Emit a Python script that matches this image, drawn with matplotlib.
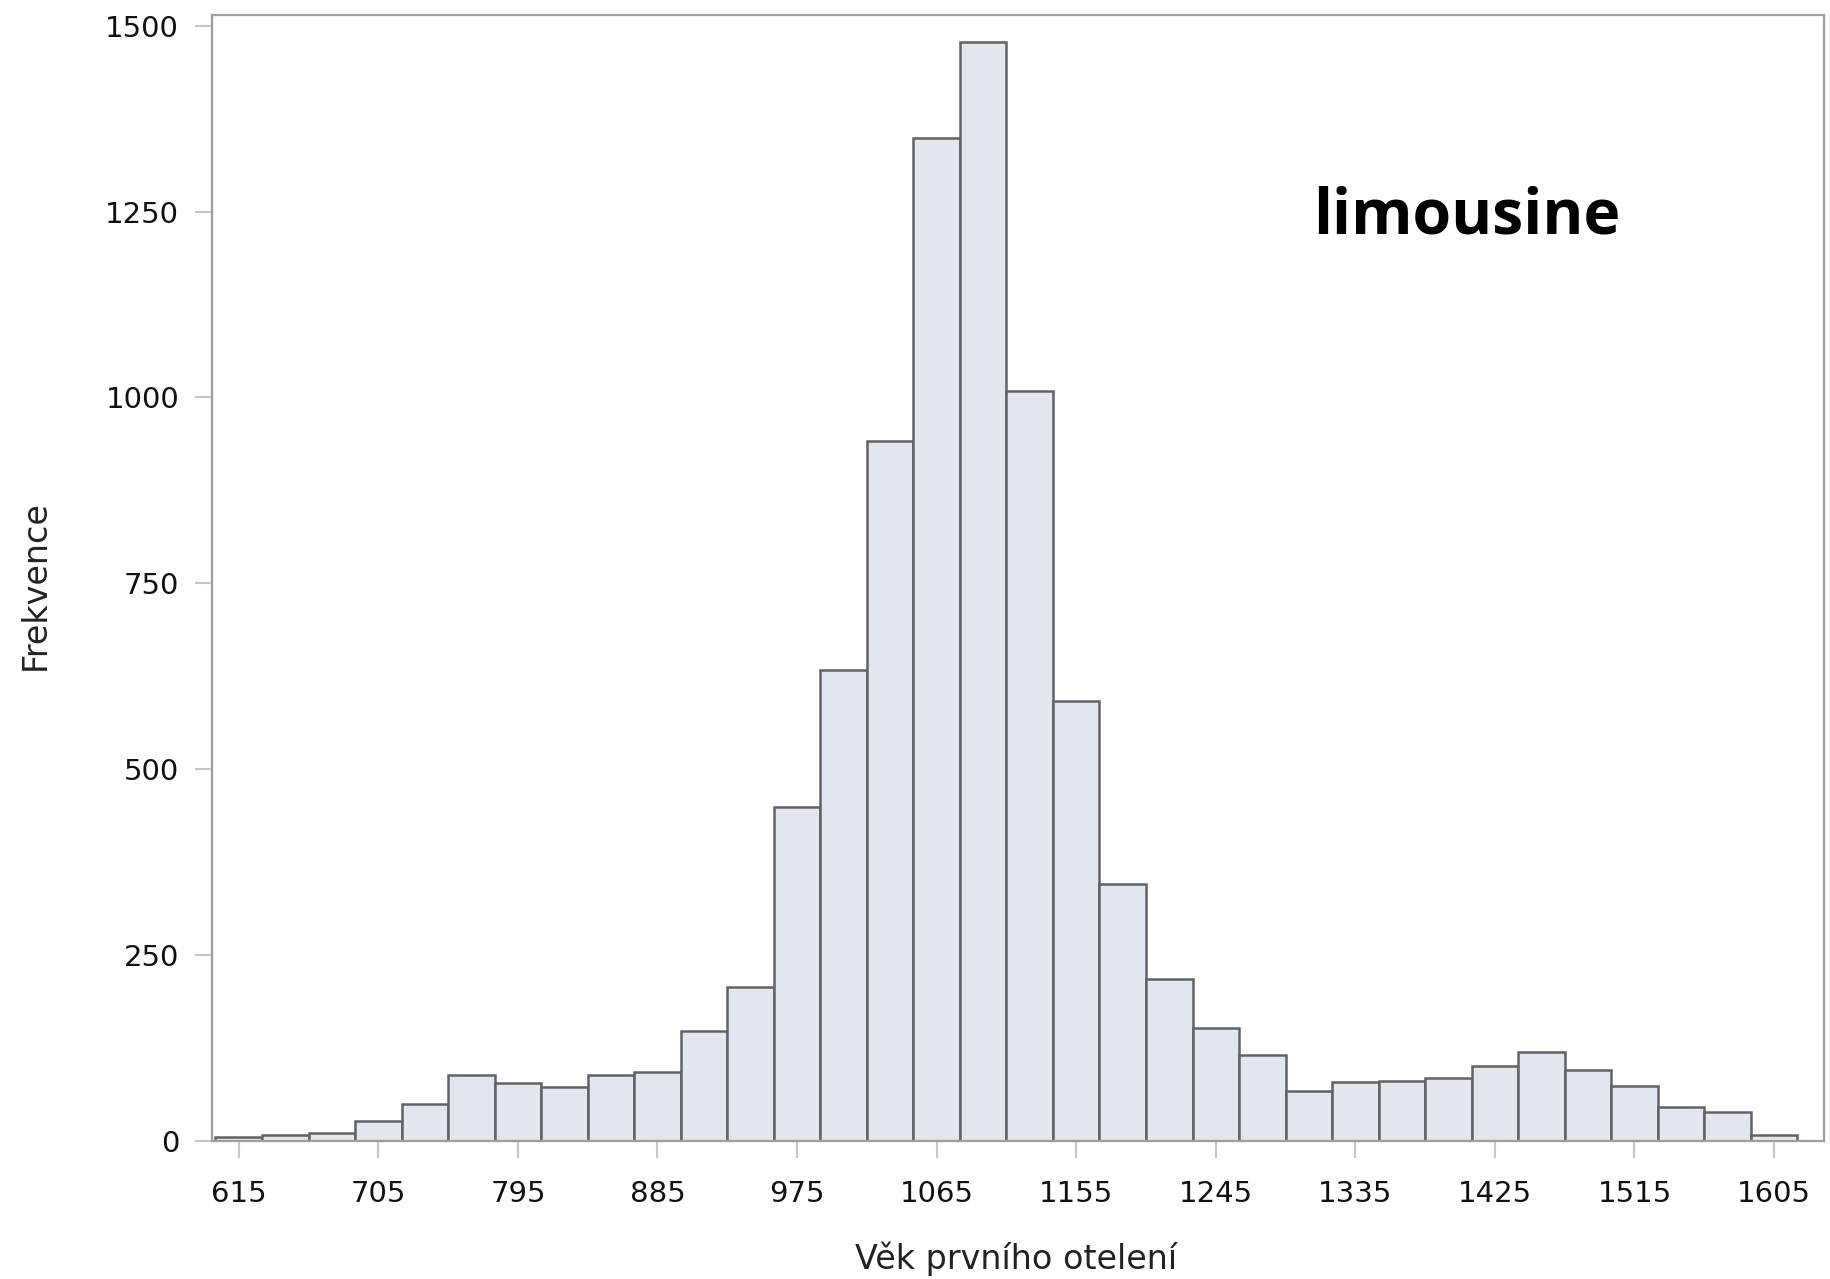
#!/usr/bin/env python3
"""Histogram of age at first calving (limousine)."""

import numpy as np
import matplotlib
matplotlib.use('Agg')
import matplotlib.pyplot as plt

# bin centres (days) and counts
bin_centers = np.arange(615, 1606, 30)
counts = [5, 8, 10, 27, 49, 89, 78, 72, 89, 92, 148, 207, 449, 633, 942,
          1349, 1478, 1009, 592, 346, 218, 152, 115, 67, 79, 81, 84, 101,
          119, 95, 74, 45, 39, 8]
bin_width = 30
x_ticks = np.arange(615, 1606, 90)
y_ticks = [0, 250, 500, 750, 1000, 1250, 1500]

x_label = "Věk prvního otelení"
y_label = "Frekvence"
breed = "limousine"

plt.rcParams['font.family'] = ['DejaVu Sans']

fig = plt.figure(figsize=(18.31, 12.79), dpi=100)
ax = fig.add_axes([0.116, 0.108, 0.880, 0.880])

ax.bar(bin_centers, counts, width=bin_width, color='#e1e6ef',
       edgecolor='#5f6368', linewidth=1.8, zorder=2)

ax.set_xlim(598, 1637)
ax.set_ylim(0, 1514)
ax.set_xticks(x_ticks)
ax.set_yticks(y_ticks)

for side in ax.spines.values():
    side.set_color('#9a9fa5')
    side.set_linewidth(1.6)

ax.tick_params(axis='both', direction='out', length=12, width=1.5,
               color='#c4c7ca', labelsize=21, labelcolor='#111111')
ax.tick_params(axis='x', pad=16)
ax.tick_params(axis='y', pad=12)

ax.set_xlabel(x_label, fontsize=24, color='#222222')
ax.set_ylabel(y_label, fontsize=24, color='#222222')
ax.xaxis.set_label_coords(0.499, -0.105)
ax.xaxis.label.set_va('center')
ax.yaxis.set_label_coords(-0.110, 0.494)
ax.yaxis.label.set_va('center')

ax.text(0.683, 0.806, breed, transform=ax.transAxes, fontsize=45,
        fontweight='bold', family=['Open Sans', 'DejaVu Sans'],
        ha='left', va='baseline', color='black')

fig.savefig('out.png', dpi=100)
